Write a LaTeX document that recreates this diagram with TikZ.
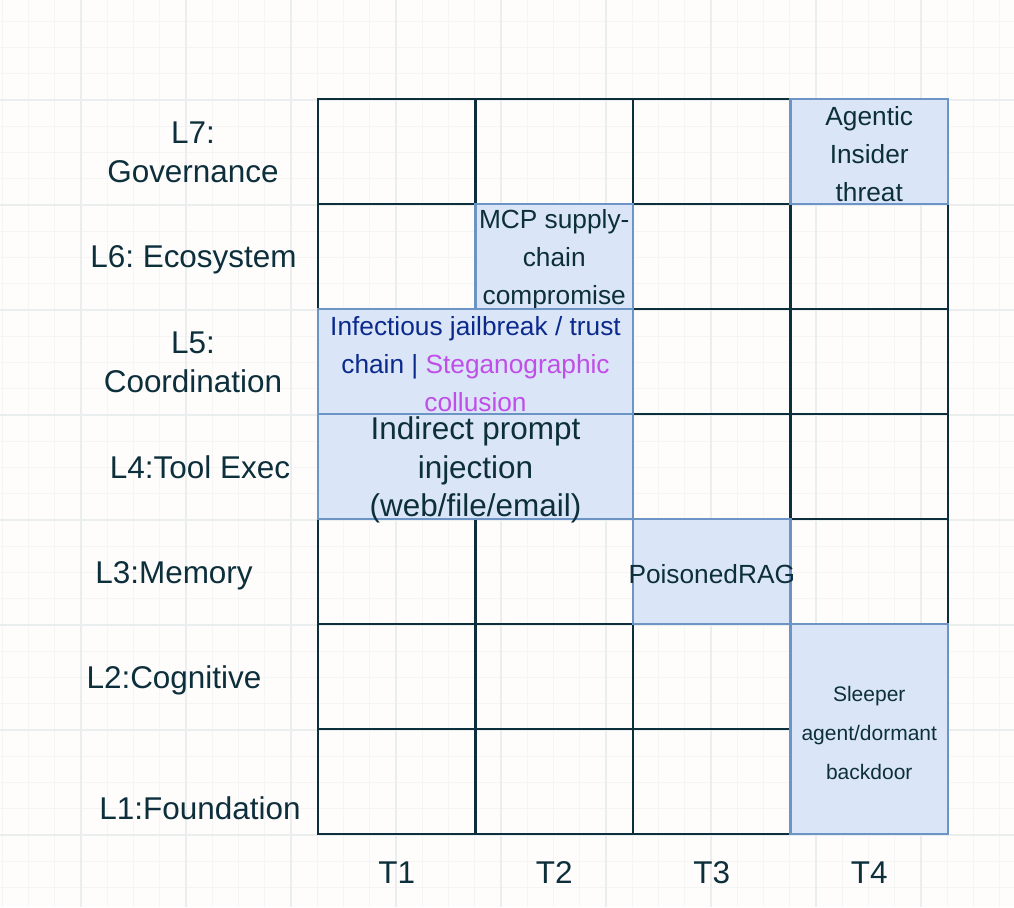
\documentclass[tikz,border=0pt]{standalone}
\usepackage{fontspec}
\setmainfont{Liberation Sans}
\usetikzlibrary{positioning}
\definecolor{paper}{HTML}{FFFDFC}
\definecolor{gridminor}{HTML}{F4F5F5}
\definecolor{gridmajor}{HTML}{EAEEEE}
\definecolor{inkdark}{HTML}{0C2F3B}
\definecolor{cellfill}{HTML}{DAE6F8}
\definecolor{celledge}{HTML}{6C95C6}
\definecolor{chainblue}{HTML}{0B2A8C}
\definecolor{stegopurple}{HTML}{C04EE8}
\frenchspacing
\newcommand{\dropline}{\rule{0pt}{0.96em}}

\begin{document}
\begin{tikzpicture}[x=0.75pt,y=-0.75pt,
cellbox/.style={rectangle, draw=inkdark, line width=2.2pt, minimum width=118.125pt, minimum height=78.75pt, inner sep=0pt, outer sep=0pt},
threatbox/.style={rectangle, draw=celledge, fill=cellfill, line width=2pt, minimum width=118.125pt, minimum height=78.75pt, inner xsep=-6pt, inner ysep=-10pt, align=center, text=inkdark, font=\fontsize{19.7}{28.5}\selectfont},
layerlabel/.style={align=center, text=inkdark, text depth=0pt, font=\fontsize{23.6}{29.2}\selectfont},
tacticlabel/.style={text=inkdark, text depth=0pt, font=\fontsize{23.6}{28}\selectfont},
]
\useasboundingbox (0,0) rectangle (1014,907);
\fill[paper] (0,0) rectangle (1014,907);

\foreach \k in {0,...,38}
  \draw[gridminor, line width=0.8pt] ({2.25+26.25*\k},0) -- ({2.25+26.25*\k},907);
\foreach \k in {0,...,33}
  \draw[gridminor, line width=0.8pt] (0,{21.25+26.25*\k}) -- (1014,{21.25+26.25*\k});
\foreach \k in {3,7,...,35}
  \draw[gridmajor, line width=0.9pt] ({2.25+26.25*\k},0) -- ({2.25+26.25*\k},907);
\foreach \k in {3,7,...,31}
  \draw[gridmajor, line width=0.9pt] (0,{21.25+26.25*\k}) -- (1014,{21.25+26.25*\k});

\foreach \c in {1,...,4}
  \foreach \r in {1,...,7}
    \node[cellbox] (cell\c\r) at ({318+157.5*(\c-0.5)},{99+105*(\r-0.5)}) {};

\node[threatbox] (insider) at (869.25,151.5) {\dropline Agentic\\Insider\\threat};
\node[threatbox] (mcp) at (554.25,256.5) {\dropline MCP supply-\\chain\\compromise};
\node[threatbox, minimum width=236.25pt, font=\fontsize{23.6}{28.9}\selectfont] (injection) at (475.5,466.5)
  {\dropline Indirect prompt\\injection\\(web/file/email)};
\node[threatbox, minimum width=236.25pt, text=chainblue] (jailbreak) at (475.5,361.5)
  {\dropline Infectious jailbreak / trust\\chain | \textcolor{stegopurple}{Steganographic}\\\textcolor{stegopurple}{collusion}};
\node[threatbox] (rag) at (711.75,571.5) {\dropline PoisonedRAG};
\node[threatbox, minimum height=157.5pt, font=\fontsize{15.75}{29}\selectfont] (sleeper) at (869.25,729)
  {\rule{0pt}{1.1em}Sleeper\\agent/dormant\\backdoor};

\node[layerlabel] (gov)   at (193,152) {L7:\\Governance};
\node[layerlabel] (eco)   at (193.5,257) {L6: Ecosystem};
\node[layerlabel] (coord) at (193,362) {L5:\\Coordination};
\node[layerlabel] (tool)  at (200,467) {L4:Tool Exec};
\node[layerlabel] (mem)   at (174,573) {L3:Memory};
\node[layerlabel] (cog)   at (174,677) {L2:Cognitive};
\node[layerlabel] (found) at (200,808) {L1:Foundation};

\foreach \c in {1,...,4}
  \node[tacticlabel] (tac\c) at ({318+157.5*(\c-0.5)},873) {T\c};

\end{tikzpicture}
\end{document}
